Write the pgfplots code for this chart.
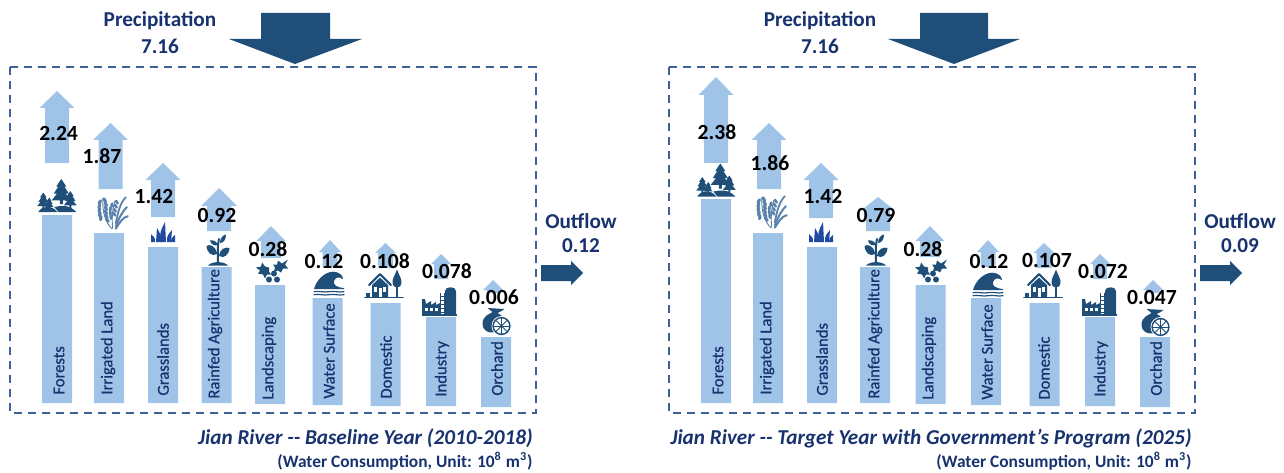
\documentclass[border=0pt]{standalone}
\usepackage{fontspec}
\usepackage{pgfplots}
\usepackage{pgfplotstable}
\pgfplotsset{compat=1.18}
\setmainfont{Carlito}
\newfontfamily\catfont[FakeBold=0.6]{Carlito}

\definecolor{barblue}{HTML}{9FC4E8}
\definecolor{bigarrow}{HTML}{1F4E79}
\definecolor{navy}{HTML}{17326E}
\definecolor{frameblue}{HTML}{3F5F98}
\definecolor{wheatblue}{HTML}{5A82AA}
\definecolor{grassblue}{HTML}{1F4AA0}

% picture is laid out in reference pixels, 1px = 0.5pt; y in the axis = 408 - pixel row
% x, lower gap, bar height (baseline panel, then target panel)
\pgfplotstableread[col sep=comma]{
x,gap,h
57,5,188
109,5,170
163,5,156
216.5,5,136
270,4,119
327.5,3,107
385.5,2,103
441,2,89
496,1,70
716,5,204
768,5,170
822,5,156
875,5,136
930.5,4,119
986,3,107
1044.5,2,103
1100,2,89
1155,1,70
}\bars

\pgfplotstableread[col sep=comma]{
x,row,val
58.6,133,2.24
102,156,1.87
154,196,1.42
217,215,0.92
268,249,0.28
324,261,0.12
385,261,0.108
447,271,0.078
494,297,0.006
717,132,2.38
770,163,1.86
823,196,1.42
876,215,0.79
923,249,0.28
989,261,0.12
1047,260,0.107
1103,271,0.072
1152,297,0.047
}\values

\pgfplotstableread[col sep=comma]{
x,row,name
59,395,Forests
108,395,Irrigated Land
163,396,Grasslands
215,399,Rainfed Agriculture
269,400,Landscaping
329,399,Water Surface
386,399,Domestic
442,397,Industry
497,396,Orchard
718,395,Forests
767,395,Irrigated Land
822,396,Grasslands
875,399,Rainfed Agriculture
929,400,Landscaping
987,400,Water Surface
1044,400,Domestic
1101,397,Industry
1156,396,Orchard
}\categories

% up arrow: centre, base row, head base row, tip row, head half width, shaft half width
\newcommand{\uparr}[6]{%
  \pgfmathsetmacro\xa{#1-#6}\pgfmathsetmacro\xb{#1+#6}%
  \pgfmathsetmacro\xc{#1-#5}\pgfmathsetmacro\xd{#1+#5}%
  \pgfmathsetmacro\yb{408-#2}\pgfmathsetmacro\yh{408-#3}\pgfmathsetmacro\yt{408-#4}%
  \addplot[fill=barblue,draw=none] coordinates
    {(\xa,\yb) (\xb,\yb) (\xb,\yh) (\xd,\yh) (#1,\yt) (\xc,\yh) (\xa,\yh)} --cycle;
}
\newcommand{\icon}[3]{\node[inner sep=0pt,anchor=center] at (axis cs:#2,{408-#3}) {\usebox{#1}};}
\newcommand{\firtree}[3]{%
  \fill ({#1},{#2}) -- ({#1+.2*#3},{#2+.3*#3}) -- ({#1+.12*#3},{#2+.3*#3}) -- ({#1+.3*#3},{#2+.58*#3})
    -- ({#1+.17*#3},{#2+.58*#3}) -- ({#1+.38*#3},{#2+.85*#3}) -- ({#1+.06*#3},{#2+.85*#3}) -- ({#1+.06*#3},{#2+#3})
    -- ({#1-.06*#3},{#2+#3}) -- ({#1-.06*#3},{#2+.85*#3}) -- ({#1-.38*#3},{#2+.85*#3}) -- ({#1-.17*#3},{#2+.58*#3})
    -- ({#1-.3*#3},{#2+.58*#3}) -- ({#1-.12*#3},{#2+.3*#3}) -- ({#1-.2*#3},{#2+.3*#3}) -- cycle;}
\newcommand{\blade}[5]{\fill (#1,10) .. controls (#1,{(#5+10)/2}) .. (#4,#5) .. controls (#2,{(#5+10)/2}) .. (#2,10) -- cycle;}
\tikzset{iconpx/.style={x=0.5pt,y=-0.5pt,line cap=round,line join=round}}

\newsavebox\forestbox \newsavebox\wheatbox \newsavebox\grassbox
\newsavebox\sproutbox \newsavebox\hollybox \newsavebox\wavebox
\newsavebox\housebox \newsavebox\factorybox \newsavebox\orangebox

\sbox\forestbox{\begin{tikzpicture}[iconpx,bigarrow]
  \firtree{4}{-16.5}{25}\firtree{-14}{-3}{16}\firtree{-8}{2}{11}\firtree{13}{-4.5}{17}
  \fill (-19,16.5) .. controls (-15,10) and (-6,9) .. (0,16.5) -- cycle;
  \fill (-3,11.5) .. controls (4,10) and (12,9) .. (19,16.5) -- (1,16.5) -- cycle;
\end{tikzpicture}}
\sbox\wheatbox{\begin{tikzpicture}[iconpx,wheatblue]
  % main ear on the left, a second one leaning right, leaves curving off
  \foreach \px/\py/\ang in {-8/-13/30,-13/-11/-25,-7/-9/30,-13.5/-7/-20,-7/-5/30,-13.5/-3/-15,-7/-1/30,-13/1/-15,-6.5/3/30,-12/5/-10,-5.5/7/35}{
    \fill[rotate around={\ang:(\px,\py)}] (\px,\py) ellipse (.85pt and 1.5pt);
  }
  \draw[line width=.45pt] (-10,-15) .. controls (-10.5,-2) and (-8,9) .. (-1,15.5);
  \foreach \px/\py/\ang in {4/-11/35,-1/-8/-10,3/-7/35,-2.5/-4/-5,2/-3/35,-2.5/0/0,1.5/1/35,-2/4/5}{
    \fill[rotate around={\ang:(\px,\py)}] (\px,\py) ellipse (.75pt and 1.4pt);
  }
  \draw[line width=.45pt] (2,-12) .. controls (-1,-2) and (-1,8) .. (0,15.5);
  \draw[line width=.9pt] (3,10) .. controls (5,0) and (7,-10) .. (13,-16);
  \draw[line width=1pt] (3,13) .. controls (7,3) and (10,-2) .. (14,-6);
  \draw[line width=1pt] (3,15.5) .. controls (7,9) and (10,4) .. (15,3);
\end{tikzpicture}}
\sbox\grassbox{\begin{tikzpicture}[iconpx,grassblue]
  \blade{-12}{-8}{0}{-12}{2}\blade{-7}{-2}{0}{-6}{-4}\blade{-3}{3}{0}{2}{-10}
  \blade{4}{8}{0}{9}{-2}\blade{8}{12}{0}{12}{3}
\end{tikzpicture}}
\sbox\sproutbox{\begin{tikzpicture}[iconpx,bigarrow]
  \draw[line width=1pt] (0,14) .. controls (0,6) and (-1,-2) .. (1,-11);
  \fill (-1,3) .. controls (-3,-5) and (-9,-6) .. (-11.5,-4) .. controls (-11,3) and (-6,7) .. (-1,4) -- cycle;
  \fill (1,6) .. controls (2,-2) and (8,-3) .. (11.5,-2) .. controls (11,5) and (6,9) .. (1,6) -- cycle;
  \fill (0,-5) .. controls (-2,-10) and (-6,-10) .. (-8,-9.5) .. controls (-7,-5) and (-3,-4) .. (0,-5) -- cycle;
  \fill (2,-7) .. controls (2,-12) and (5,-15) .. (8,-15.5) .. controls (8,-11) and (6,-7) .. (2,-7) -- cycle;
  \fill (-10,15.5) .. controls (-6,11) and (6,11) .. (10,15.5) -- cycle;
\end{tikzpicture}}
\sbox\hollybox{\begin{tikzpicture}[iconpx,bigarrow]
  \fill (-16,-4) -- (-11,-5) -- (-10,-9) -- (-7,-5) -- (-3,-4) -- (-3,0) -- (-1,3) -- (-5,3) -- (-7,7) -- (-9,3) -- (-14,2) -- (-12,-1) -- cycle;
  \fill (16,-12) -- (13,-7) -- (16,-3) -- (11,-3) -- (9,1) -- (6,-1) -- (2,0) -- (3,-4) -- (1,-7) -- (5,-7) -- (6,-11) -- (10,-8) -- cycle;
  \fill (2,2) circle (1.5pt); \fill (-3,8) circle (1.5pt); \fill (5,8) circle (1.5pt);
\end{tikzpicture}}
\sbox\wavebox{\begin{tikzpicture}[iconpx,bigarrow]
  \fill (-15,6) .. controls (-13,-3) and (-4,-11.5) .. (4,-11.5) .. controls (10,-11.5) and (14,-8) .. (14,-4)
     .. controls (10,-7) and (6,-6) .. (5,-2) .. controls (4,2) and (8,4) .. (15,5) -- (15,6) -- cycle;
  \draw[line width=.6pt] (-15,8.5) .. controls (-10,7.5) and (-5,9.5) .. (0,8.5) .. controls (5,7.5) and (10,9.5) .. (15,8.5);
  \draw[line width=.6pt] (-15,11.5) .. controls (-10,10.5) and (-5,12.5) .. (0,11.5) .. controls (5,10.5) and (10,12.5) .. (15,11.5);
\end{tikzpicture}}
\sbox\housebox{\begin{tikzpicture}[iconpx,bigarrow]
  \draw[line width=.8pt] (-19,13.5) -- (19,13.5);
  \draw[line width=1pt] (-15,1) -- (-4,-10) -- (7,1);
  \fill (-12,1) -- (-4,-6.5) -- (4,1) -- (4,13) -- (-12,13) -- cycle;
  \fill[white] (-10,3) rectangle (-7,8); \fill[white] (-5.5,4) rectangle (-2.5,13); \fill[white] (-1,3) rectangle (2,8);
  \fill (-18,9) rectangle (-14,12.5);
  \fill (13,-14.5) .. controls (15,-9) and (17.5,-6) .. (17.5,-2) .. controls (17.5,2) and (15,3.5) .. (13,3.5) .. controls (11,3.5) and (8.5,2) .. (8.5,-2) .. controls (8.5,-6) and (11,-9) .. (13,-14.5) -- cycle;
  \draw[line width=.6pt] (13,0) -- (13,13);
\end{tikzpicture}}
\sbox\factorybox{\begin{tikzpicture}[iconpx,bigarrow]
  \fill (6,13) -- (6,-10) .. controls (6,-15) and (17,-15) .. (17,-10) -- (17,13) -- cycle;
  \fill (1,-8) rectangle (2,13);
  \fill (5,-8) rectangle (6,13);
  \foreach \yy in {-5,-1,3,7,11}{\fill (2,\yy) rectangle (5,{\yy+1});}
  \fill (-17,13) -- (-17,-2) -- (-14,-2) -- (-13,3) -- (-8,0) -- (-8,4) -- (-3,1) -- (-3,4) -- (1,2) -- (1,13) -- cycle;
  \foreach \xx in {-14,-9,-4}{\fill[white] (\xx,7) rectangle ({\xx+3},10);}
  \fill (-17.5,13) rectangle (17.5,15);
\end{tikzpicture}}
\sbox\orangebox{\begin{tikzpicture}[iconpx,bigarrow]
  \fill (-14,3) .. controls (-14,-6) and (-6,-7) .. (-4,-9) .. controls (-6,-11) and (-8,-12) .. (-9,-13) -- (8,-12)
     .. controls (6,-10) and (3,-9) .. (1,-8) .. controls (6,-6) and (8,-2) .. (8,3) .. controls (8,10) and (-2,12) .. (-6,11.5)
     .. controls (-10,11) and (-14,8) .. (-14,3) -- cycle;
  \fill[white] (5,5) circle (5pt);
  \draw[line width=.7pt] (5,5) circle (4.2pt);
  \foreach \ang in {0,45,...,315}{\draw[line width=.4pt] (5,5) -- ++(\ang:4.2pt);}
\end{tikzpicture}}

\begin{document}
\begin{tikzpicture}
\begin{axis}[
    scale only axis,
    width=642pt, height=236pt,
    xmin=0, xmax=1284,
    ymin=-64, ymax=408,
    hide axis,
    clip=false,
]
    % keep the whole page, hide axis leaves only what is drawn in the box
    \path (axis cs:0,-64) rectangle (axis cs:1284,408);

    % frames
    \addplot[frameblue,line width=1.2pt,dash pattern=on 4.2pt off 2.8pt] coordinates
        {(10,341) (536,341) (536,-5) (10,-5)} --cycle;
    \addplot[frameblue,line width=1.2pt,dash pattern=on 4.2pt off 2.8pt] coordinates
        {(669,341) (1195,341) (1195,-5) (669,-5)} --cycle;

    % precipitation and outflow arrows
    \addplot[fill=bigarrow,draw=none] coordinates
        {(261,395) (330,395) (330,369) (362,369) (295,344) (229,369) (261,369)} --cycle;
    \addplot[fill=bigarrow,draw=none] coordinates
        {(920,395) (988,395) (988,369) (1020,369) (954,344) (888,369) (920,369)} --cycle;
    \addplot[fill=bigarrow,draw=none] coordinates
        {(541,143) (571,143) (571,147) (583,135) (571,123) (571,127) (541,127)} --cycle;
    \addplot[fill=bigarrow,draw=none] coordinates
        {(1200,143) (1230,143) (1230,147) (1242,135) (1230,123) (1230,127) (1200,127)} --cycle;

    % evapotranspiration arrows, baseline
    \uparr{57}{163}{108}{91}{17.5}{12}
    \uparr{110.5}{189}{140}{123}{17.5}{12}
    \uparr{163}{217}{180}{163}{17.5}{12}
    \uparr{219}{231}{206}{188}{18}{12}
    \uparr{271}{258}{241}{226}{14.5}{10}
    \uparr{330}{267}{252}{240}{11}{7.5}
    \uparr{385.5}{268}{253}{243}{10.5}{7.5}
    \uparr{441}{279}{264}{254}{10}{7}
    \uparr{493}{293}{290}{280}{10}{6.5}
    % target year
    \uparr{716}{163}{95}{77}{17.5}{12}
    \uparr{769}{189}{140}{123}{17.5}{12}
    \uparr{821}{218}{180}{163}{17.5}{12}
    \uparr{878}{231}{209}{197}{15}{12}
    \uparr{930}{257}{241}{226}{14.5}{10}
    \uparr{988}{267}{252}{240}{11}{7.5}
    \uparr{1044}{268}{253}{243}{10.5}{7.5}
    \uparr{1100}{279}{264}{254}{10}{7}
    \uparr{1153}{293}{290}{280}{10}{6.5}

    % land use bars sit on a slightly slanted base, so each stands on an invisible gap
    \addplot[ybar stacked,bar width=30,draw=none,fill=none,forget plot] table[col sep=comma,x=x,y=gap] {\bars};
    \addplot[ybar stacked,bar width=30,draw=none,fill=barblue] table[col sep=comma,x=x,y=h] {\bars};

    % icons
    \icon{\forestbox}{57}{195.5}  \icon{\forestbox}{716}{180}
    \icon{\wheatbox}{113}{213}    \icon{\wheatbox}{772}{212}
    \icon{\grassbox}{163}{232}    \icon{\grassbox}{821}{232}
    \icon{\sproutbox}{218}{250}   \icon{\sproutbox}{876}{250}
    \icon{\hollybox}{272}{271}    \icon{\hollybox}{931}{271}
    \icon{\wavebox}{329}{284}     \icon{\wavebox}{988}{285}
    \icon{\housebox}{384}{284}    \icon{\housebox}{1043}{284}
    \icon{\factorybox}{439}{301}  \icon{\factorybox}{1099}{301}
    \icon{\orangebox}{497}{322}   \icon{\orangebox}{1156}{323}

    % category names inside the bars
    \addplot[only marks,mark=none,point meta=explicit symbolic,
        nodes near coords,
        every node near coord/.style={rotate=90,anchor=west,inner sep=0pt,text=navy,
            font=\catfont\fontsize{8.3}{9}\selectfont}]
        table[col sep=comma,x=x,y expr=408-\thisrow{row},meta=name] {\categories};

    % values
    \addplot[only marks,mark=none,point meta=explicit symbolic,
        nodes near coords,
        every node near coord/.style={anchor=center,inner sep=0pt,text=black,
            font=\fontsize{10.8}{11}\selectfont\bfseries}]
        table[col sep=comma,x=x,y expr=408-\thisrow{row},meta=val] {\values};

    % headings
    \begin{scope}[every node/.style={text=navy,inner sep=0pt,font=\fontsize{10.6}{11}\selectfont\bfseries}]
        \node at (axis cs:160,387) {Precipitation};
        \node at (axis cs:160,362) {7.16};
        \node at (axis cs:820,387) {Precipitation};
        \node at (axis cs:820,362) {7.16};
        \node at (axis cs:581,187) {Outflow};
        \node at (axis cs:581,162) {0.12};
        \node at (axis cs:1240,187) {Outflow};
        \node at (axis cs:1240,162) {0.09};
    \end{scope}
    \begin{scope}[every node/.style={text=navy,inner sep=0pt,anchor=east}]
        \node[font=\fontsize{10.6}{11}\selectfont\bfseries\itshape] at (axis cs:533,-30) {Jian River -{}- Baseline Year (2010-2018)};
        \node[font=\fontsize{8.7}{9}\selectfont\bfseries] at (axis cs:533,-53) {(Water Consumption, Unit: 10\textsuperscript{8} m\textsuperscript{3})};
        \node[font=\fontsize{10.6}{11}\selectfont\bfseries\itshape] at (axis cs:1192,-30) {Jian River -{}- Target Year with Government’s Program (2025)};
        \node[font=\fontsize{8.7}{9}\selectfont\bfseries] at (axis cs:1192,-53) {(Water Consumption, Unit: 10\textsuperscript{8} m\textsuperscript{3})};
    \end{scope}
\end{axis}
\end{tikzpicture}
\end{document}
